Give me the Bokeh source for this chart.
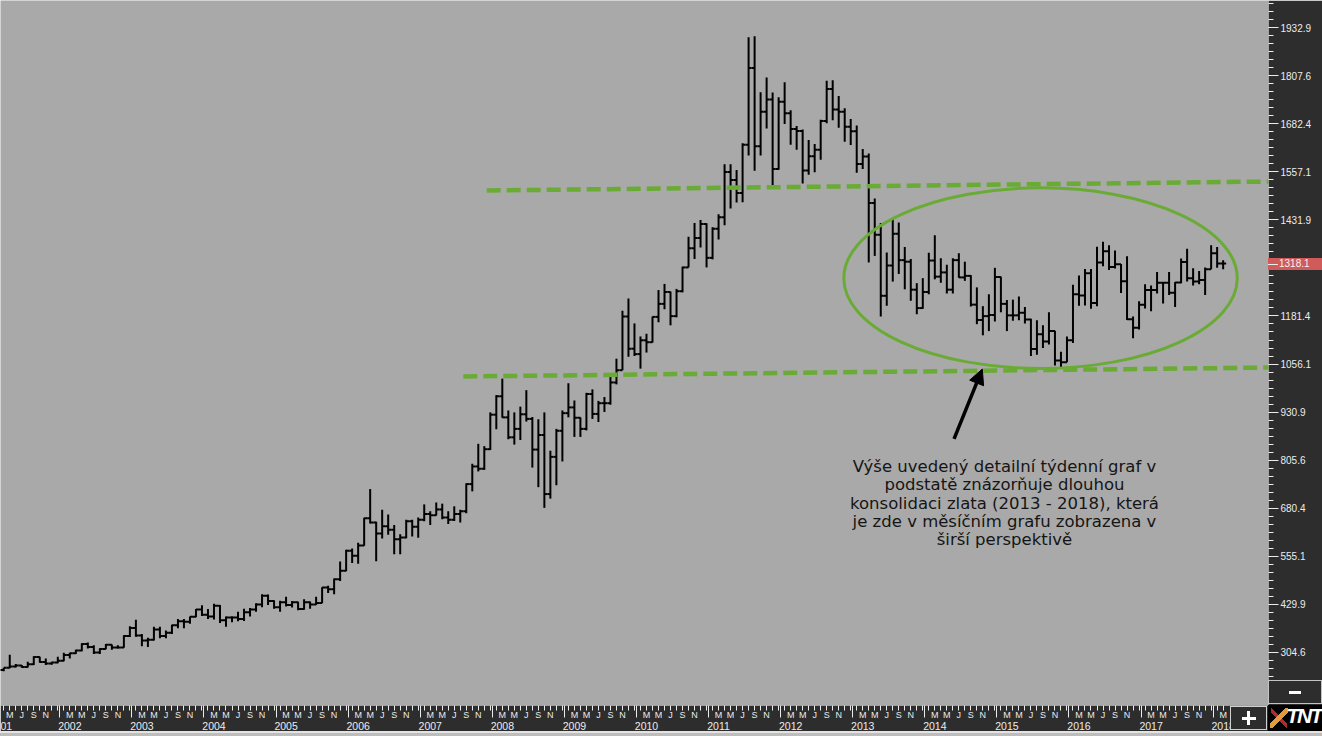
import numpy as np
from bokeh.plotting import figure
from bokeh.models import (ColumnDataSource, Range1d, LinearAxis, FixedTicker,
                          CustomJSTickFormatter, Arrow, NormalHead)
from bokeh.core.properties import value
from bokeh.embed import file_html
from bokeh.resources import INLINE

# ---------------- data: monthly gold bars, Jan 2001 .. Mar 2018 ----------------
first_year = 2001
opens = [
    272, 265, 266, 258, 264, 267, 270, 266, 273, 292, 279, 275,
    278, 282, 297, 302, 309, 326, 318, 304, 313, 324, 317, 317,
    347, 368, 348, 335, 337, 364, 347, 355, 375, 385, 384, 397,
    416, 402, 398, 426, 388, 395, 395, 391, 409, 416, 429, 452,
    438, 422, 435, 428, 435, 417, 435, 429, 433, 473, 469, 495,
    517, 569, 556, 583, 654, 643, 614, 633, 624, 599, 604, 646,
    632, 650, 665, 662, 677, 656, 650, 665, 672, 743, 789, 783,
    834, 924, 972, 917, 865, 887, 925, 913, 833, 871, 717, 814,
    882, 928, 943, 916, 887, 978, 926, 954, 954, 1008, 1040, 1180,
    1096, 1082, 1118, 1113, 1179, 1213, 1244, 1181, 1246, 1308, 1358, 1385,
    1421, 1333, 1409, 1439, 1557, 1536, 1502, 1628, 1828, 1624, 1714, 1746,
    1565, 1740, 1710, 1669, 1664, 1561, 1598, 1615, 1690, 1773, 1720, 1714,
    1675, 1663, 1578, 1597, 1476, 1393, 1234, 1313, 1396, 1327, 1323, 1250,
    1202, 1244, 1326, 1284, 1295, 1250, 1327, 1282, 1286, 1211, 1171, 1181,
    1184, 1283, 1213, 1183, 1183, 1190, 1172, 1095, 1134, 1115, 1142, 1065,
    1061, 1118, 1238, 1235, 1293, 1215, 1321, 1350, 1309, 1316, 1272, 1173,
    1151, 1211, 1249, 1249, 1268, 1268, 1242, 1269, 1322, 1280, 1271, 1275,
    1303, 1345, 1318,
]
highs = [
    273, 268, 268, 264, 298, 274, 271, 280, 294, 293, 288, 280,
    293, 303, 303, 311, 328, 330, 323, 315, 326, 325, 323, 349,
    372, 389, 352, 342, 371, 371, 361, 376, 391, 391, 398, 417,
    427, 417, 431, 428, 398, 398, 410, 418, 420, 432, 456, 455,
    440, 439, 449, 438, 436, 443, 437, 449, 474, 478, 497, 541,
    572, 575, 590, 655, 730, 645, 676, 664, 636, 612, 650, 650,
    656, 690, 672, 695, 692, 672, 685, 676, 745, 796, 848, 842,
    930, 975, 1018, 935, 930, 945, 988, 918, 912, 930, 830, 887,
    935, 1006, 961, 917, 981, 990, 960, 970, 1025, 1070, 1195, 1227,
    1162, 1128, 1135, 1180, 1249, 1265, 1245, 1252, 1310, 1388, 1424, 1432,
    1423, 1413, 1447, 1577, 1577, 1562, 1632, 1908, 1911, 1765, 1803, 1764,
    1752, 1791, 1718, 1677, 1668, 1640, 1630, 1693, 1795, 1796, 1755, 1723,
    1695, 1678, 1617, 1605, 1488, 1424, 1347, 1434, 1425, 1361, 1330, 1267,
    1280, 1346, 1392, 1332, 1315, 1332, 1345, 1323, 1288, 1256, 1207, 1238,
    1307, 1284, 1223, 1224, 1232, 1205, 1174, 1170, 1157, 1191, 1143, 1088,
    1128, 1263, 1287, 1304, 1304, 1362, 1375, 1366, 1352, 1317, 1337, 1180,
    1220, 1264, 1261, 1296, 1270, 1296, 1270, 1331, 1357, 1306, 1299, 1308,
    1366, 1361, 1327,
]
lows = [
    262, 255, 256, 255, 263, 265, 264, 265, 271, 277, 271, 272,
    276, 281, 288, 300, 307, 314, 300, 300, 312, 311, 314, 316,
    344, 345, 320, 318, 335, 341, 341, 352, 367, 367, 379, 396,
    399, 391, 390, 381, 371, 383, 385, 386, 398, 410, 422, 428,
    418, 410, 424, 421, 414, 415, 418, 428, 432, 459, 456, 490,
    516, 537, 535, 582, 640, 542, 601, 611, 560, 560, 602, 606,
    603, 646, 636, 661, 651, 639, 647, 643, 667, 724, 776, 780,
    832, 886, 916, 860, 846, 858, 906, 786, 735, 681, 705, 740,
    802, 917, 866, 866, 883, 913, 905, 931, 950, 1003, 1040, 1075,
    1077, 1044, 1086, 1112, 1165, 1199, 1157, 1178, 1243, 1308, 1330, 1360,
    1308, 1329, 1381, 1418, 1462, 1477, 1478, 1600, 1560, 1600, 1670, 1522,
    1563, 1682, 1628, 1615, 1527, 1550, 1556, 1589, 1684, 1692, 1672, 1636,
    1627, 1555, 1565, 1321, 1338, 1180, 1208, 1271, 1291, 1251, 1221, 1186,
    1200, 1238, 1277, 1268, 1240, 1240, 1281, 1273, 1206, 1160, 1131, 1142,
    1167, 1191, 1142, 1169, 1170, 1162, 1077, 1080, 1098, 1107, 1052, 1046,
    1061, 1111, 1208, 1209, 1200, 1207, 1311, 1301, 1305, 1241, 1171, 1123,
    1146, 1201, 1194, 1240, 1214, 1236, 1205, 1267, 1271, 1261, 1264, 1236,
    1303, 1307, 1303,
]
closes = [
    265, 266, 258, 264, 267, 270, 266, 273, 292, 279, 275, 278,
    282, 297, 302, 309, 326, 318, 304, 313, 324, 317, 317, 347,
    368, 348, 335, 337, 364, 347, 355, 375, 385, 384, 397, 416,
    402, 398, 426, 388, 395, 395, 391, 409, 416, 429, 452, 438,
    422, 435, 428, 435, 417, 435, 429, 433, 473, 469, 495, 517,
    569, 556, 583, 654, 643, 614, 633, 624, 599, 604, 646, 632,
    650, 665, 662, 677, 656, 650, 665, 672, 743, 789, 783, 834,
    924, 972, 917, 865, 887, 925, 913, 833, 871, 717, 814, 882,
    928, 943, 916, 887, 978, 926, 954, 954, 1008, 1040, 1180, 1096,
    1082, 1118, 1113, 1179, 1213, 1244, 1181, 1246, 1308, 1358, 1385, 1421,
    1333, 1409, 1439, 1557, 1536, 1502, 1628, 1828, 1624, 1714, 1746, 1565,
    1740, 1710, 1669, 1664, 1561, 1598, 1615, 1690, 1773, 1720, 1714, 1675,
    1663, 1578, 1597, 1476, 1393, 1234, 1313, 1396, 1327, 1323, 1250, 1202,
    1244, 1326, 1284, 1295, 1250, 1327, 1282, 1286, 1211, 1171, 1181, 1184,
    1283, 1213, 1183, 1183, 1190, 1172, 1095, 1134, 1115, 1142, 1065, 1061,
    1118, 1238, 1235, 1293, 1215, 1321, 1350, 1309, 1316, 1272, 1173, 1151,
    1211, 1249, 1249, 1268, 1268, 1242, 1269, 1322, 1280, 1271, 1275, 1303,
    1345, 1318, 1318.1,
]

last_price = "1318.1"
y_tick_labels = ["304.6", "429.9", "555.1", "680.4", "805.6", "930.9", "1056.1",
                 "1181.4", "1431.9", "1557.1", "1682.4", "1807.6", "1932.9"]
hidden_tick = 1306.6          # axis tick hidden under the last-price marker
month_letters = ["", "", "M", "", "M", "", "J", "", "S", "", "N", ""]
years = list(range(2001, 2019))
# 2001 is cut by the left edge of the chart: only its last two digits show
year_labels = ["01"] + [str(y) for y in years[1:]]

# annotation content (months counted from Jan 2002, prices in USD)
resistance = dict(x=[71.4, 202.2], y=[1508.6, 1532.1])
support = dict(x=[67.5, 202.2], y=[1023.6, 1047.0])
ellipse_box = dict(x=[163.6], y=[1280.0], w=[65.5], h=[471.0])
arrow_pts = dict(x0=149.2, y0=861.0, x1=153.9, y1=1043.0)
note_lines = ["Výše uvedený detailní týdenní graf v",
              "podstatě znázorňuje dlouhou",
              "konsolidaci zlata (2013 - 2018), která",
              "je zde v měsíčním grafu zobrazena v",
              "širší perspektivě"]
note_x = 157.6
note_y = [789.0, 741.1, 693.2, 645.4, 597.5]

# ---------------- figure ----------------
BG = "#a9a9a9"
PANEL = "#2d2d2d"
AXTXT = "#ececec"
GREEN = "#6aab35"
X_START, X_END = -9.54, 201.55

n = len(opens)
xi = np.arange(n) - 12          # months since Jan 2002
src = ColumnDataSource(dict(x=xi, xl=xi - 0.5, xr=xi + 0.5,
                            o=opens, h=highs, l=lows, c=closes))

p = figure(width=1322, height=736, output_backend="svg", toolbar_location=None,
           x_range=Range1d(X_START, X_END), y_range=Range1d(165.6, 2004.1),
           y_axis_location="right",
           min_border_left=0, min_border_top=0, min_border_right=54, min_border_bottom=31,
           background_fill_color=BG, border_fill_color=PANEL, outline_line_color=None)
p.grid.visible = False

# OHLC bars
p.segment("x", "l", "x", "h", source=src, line_color="black", line_width=2)
p.segment("xl", "o", "x", "o", source=src, line_color="black", line_width=2)
p.segment("x", "c", "xr", "c", source=src, line_color="black", line_width=2)

# support / resistance
p.line(resistance["x"], resistance["y"], line_color=GREEN, line_width=4.5,
       line_dash="14 6")
p.line(support["x"], support["y"], line_color=GREEN, line_width=4.5,
       line_dash="14 6")
p.ellipse(x=ellipse_box["x"], y=ellipse_box["y"], width=ellipse_box["w"],
          height=ellipse_box["h"], fill_color=None, line_color=GREEN, line_width=3)

p.add_layout(Arrow(end=NormalHead(size=15, fill_color="black", line_color="black"),
                   x_start=arrow_pts["x0"], y_start=arrow_pts["y0"],
                   x_end=arrow_pts["x1"], y_end=arrow_pts["y1"],
                   line_color="black", line_width=3.5))

p.text(x=[note_x] * len(note_lines), y=note_y, text=note_lines,
       text_font=value("DejaVu Sans"), text_font_size="16.5px", text_color="#151515",
       text_align="center", text_baseline="alphabetic")

# ---------------- right price axis ----------------
y_ticks = [float(s) for s in y_tick_labels]
step = (y_ticks[-1] - y_ticks[0]) / 13.0
y_minor = [y_ticks[0] + k * step / 6.0 for k in range(-7, 13 * 6 + 5)]
y_minor.append(hidden_tick)
ya = p.yaxis[0]
ya.ticker = FixedTicker(ticks=y_ticks, minor_ticks=y_minor)
ya.formatter = CustomJSTickFormatter(code="return tick.toFixed(1)")
ya.axis_line_color = None
ya.major_tick_in = 0
ya.major_tick_out = 10
ya.minor_tick_in = 0
ya.minor_tick_out = 5
ya.major_tick_line_color = AXTXT
ya.minor_tick_line_color = AXTXT
ya.major_label_standoff = 2
ya.major_label_text_font = "Liberation Sans"
ya.major_label_text_font_size = "10px"
ya.major_label_text_color = AXTXT

# ---------------- bottom month axis ----------------
month_ticks = list(range(-12, n - 12))
year_seps = [m + 0.33 for m in month_ticks if m % 12 == 0]
xa = p.xaxis[0]
xa.ticker = FixedTicker(ticks=month_ticks, minor_ticks=year_seps)
xa.formatter = CustomJSTickFormatter(args=dict(letters=month_letters),
                                     code="const m = ((Math.round(tick) % 12) + 12) % 12; return letters[m];")
xa.axis_line_color = None
xa.major_tick_in = 0
xa.major_tick_out = 5
xa.minor_tick_in = 0
xa.minor_tick_out = 12
xa.major_tick_line_color = AXTXT
xa.minor_tick_line_color = AXTXT
xa.major_label_standoff = -8
xa.major_label_text_font = "Liberation Sans"
xa.major_label_text_font_size = "9px"
xa.major_label_text_color = AXTXT

# year labels sit under March; the cut 2001 label sits at the left edge
year_ticks = [max(12 * (y - 2002) + 2, X_START + 0.6) for y in years]
year_axis = LinearAxis(
    ticker=FixedTicker(ticks=year_ticks, minor_ticks=[]),
    formatter=CustomJSTickFormatter(args=dict(labels=year_labels),
                                    code="return labels[Math.round((tick - 2) / 12) + 1];"),
    axis_line_color=None, major_tick_in=0, major_tick_out=0, minor_tick_in=0, minor_tick_out=0,
    major_label_standoff=-1, major_label_text_font="Liberation Sans",
    major_label_text_font_size="10.5px", major_label_text_color=AXTXT)
p.add_layout(year_axis, "below")

# ---------------- chrome: last price marker, zoom buttons, logo (DOM overlays) ----------------
try:
    from bokeh.models.dom import Div as DomDiv

    def box(left, top, w, h, bg, children=(), extra=None):
        st = {"position": "absolute", "left": f"{left}px", "top": f"{top}px",
              "width": f"{w}px", "height": f"{h}px", "box-sizing": "border-box",
              "background": bg, "z-index": "5", "overflow": "hidden"}
        if extra:
            st.update(extra)
        return DomDiv(style=st, children=list(children))

    tick_bar = "linear-gradient(#ececec,#ececec) no-repeat 0 50%/10px 1px"
    price_tag = box(1268, 258, 54, 12, f"{tick_bar}, #cf5b5b", [last_price],
                    {"color": "#f4f4f4", "font-family": "Liberation Sans", "font-size": "10px",
                     "line-height": "12px", "padding-left": "11px"})
    minus_btn = box(1268, 680, 54, 24,
                    "linear-gradient(#fff,#fff) no-repeat 50% 50%/12px 3px, #2d2d2d",
                    extra={"border": "1px solid #c4c4c4"})
    plus_btn = box(1230, 706, 37, 24,
                   "linear-gradient(#fff,#fff) no-repeat 50% 50%/14px 3px, "
                   "linear-gradient(#fff,#fff) no-repeat 50% 50%/3px 14px, #2d2d2d",
                   extra={"border": "1px solid #d0d0d0"})
    logo = box(1268, 705, 54, 26,
               "linear-gradient(135deg, transparent 42%, #e59a3a 42%, #e59a3a 58%, transparent 58%) "
               "no-repeat 2px 3px/18px 20px, "
               "linear-gradient(45deg, transparent 44%, #b02a2a 44%, #b02a2a 56%, transparent 56%) "
               "no-repeat 3px 3px/16px 20px, #000",
               ["TNT"],
               {"color": "#fff", "font-family": "Liberation Sans", "font-size": "21px",
                "font-weight": "bold", "font-style": "italic", "line-height": "22px",
                "text-align": "right", "padding-right": "1px", "letter-spacing": "-2px"})
    bottom_edge = box(0, 731, 1322, 5, "linear-gradient(#e4e4e4 0 2px, #bdbdbd 2px)")
    p.elements = [price_tag, minus_btn, plus_btn, logo, bottom_edge]
except Exception:
    pass

open("out.html", "w").write(file_html(p, INLINE))
